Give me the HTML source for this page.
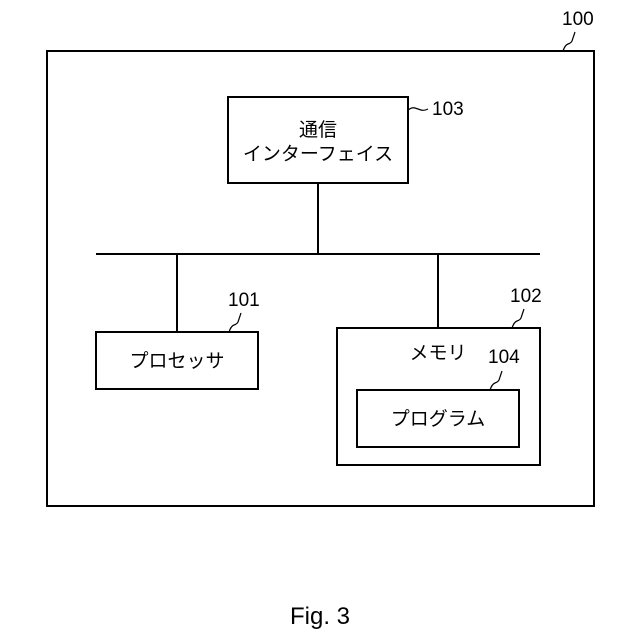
<!DOCTYPE html>
<html><head><meta charset="utf-8"><style>
html,body{margin:0;padding:0;background:#fff;}
svg{display:block;}
text{font-family:"Liberation Sans","Noto Sans CJK JP",sans-serif;fill:#000;}
</style></head><body>
<svg width="640" height="640" viewBox="0 0 640 640" xmlns="http://www.w3.org/2000/svg">
<g fill="none" stroke="#000" stroke-width="2">
<rect x="47" y="51" width="547" height="455"/>
<rect x="228" y="97" width="180" height="86"/>
<line x1="318" y1="183" x2="318" y2="254"/>
<line x1="96" y1="254" x2="540" y2="254"/>
<line x1="177" y1="254" x2="177" y2="332"/>
<line x1="438" y1="254" x2="438" y2="328"/>
<rect x="96" y="332" width="162" height="57"/>
<rect x="337" y="328" width="203" height="137"/>
<rect x="357" y="390" width="162" height="57"/>
</g>
<g fill="none" stroke="#000" stroke-width="1.2">
<path d="M563 51 q2 -6 5 -7 q3 -1 4 -3 q1 -3 3 -9"/>
<path d="M408 110 q4 -3 7 -2 q3 1 6 2 q3 1 7 -1"/>
<path d="M229 332 q2 -6 5 -7 q3 -1 4 -3 q1 -3 3 -9"/>
<path d="M512 328 q2 -6 5 -7 q3 -1 4 -3 q1 -3 3 -9"/>
<path d="M490 390 q2 -6 5 -7 q3 -1 4 -3 q1 -3 3 -9"/>
</g>
<text x="562" y="25" font-size="19">100</text>
<text x="432" y="115" font-size="19">103</text>
<text x="228" y="306" font-size="19">101</text>
<text x="510" y="302" font-size="19">102</text>
<text x="488" y="363" font-size="19">104</text>
<text x="318" y="136" font-size="19" text-anchor="middle">通信</text>
<text x="318" y="160" font-size="19" text-anchor="middle">インターフェイス</text>
<text x="177" y="367" font-size="19" text-anchor="middle">プロセッサ</text>
<text x="438" y="359" font-size="19" text-anchor="middle">メモリ</text>
<text x="438" y="425" font-size="19" text-anchor="middle">プログラム</text>
<text x="320" y="624" font-size="24" text-anchor="middle" font-family="Liberation Mono, monospace">Fig. 3</text>
</svg>
</body></html>
